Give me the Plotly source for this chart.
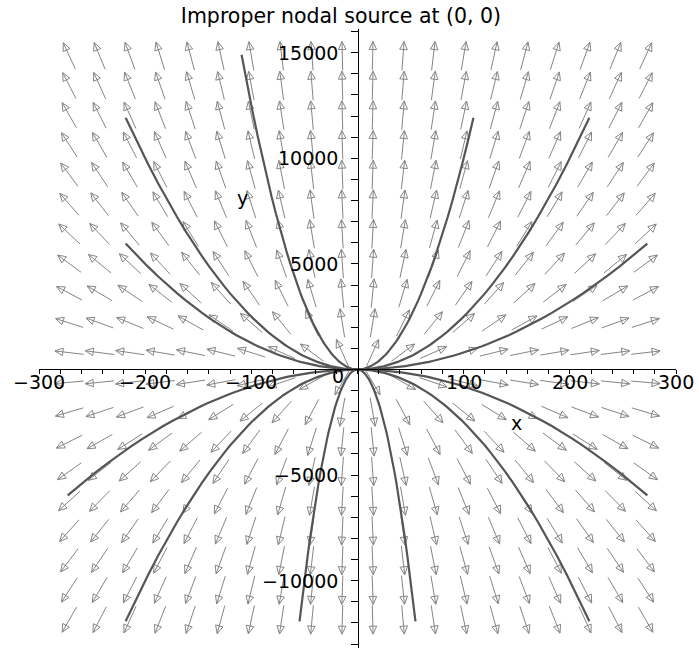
import numpy as np
import plotly.graph_objects as go

# Linear system  x' = rate_x * x,  y' = rate_y * y  (eigenvalues 1 and 2 -> improper nodal source)
rate_x = 1.0
rate_y = 2.0

# Initial conditions (t = 0) of the drawn trajectories
x0_values = [-4, -4, -2, 2, 4, 5, -5, -4, -1, 1, 4, 5]
y0_values = [4, 2, 5, 4, 4, 2, -2, -4, -4, -4, -4, -2]
t_start = -6.0
t_end = 4.0

# Viewing window and direction-field grid
x_range = [-300, 300]
y_range = [-13187, 16122]
field_x_window = [-300, 300]
field_y_window = [-13250, 16250]
grid_n = 20

# Axis ticks and labels
x_ticks = [-300, -200, -100, 100, 200, 300]
x_tick_labels = ["\u2212300", "\u2212200", "\u2212100", "100", "200", "300"]
y_ticks = [-10000, -5000, 5000, 10000, 15000]
y_tick_labels = ["\u221210000", "\u22125000", "5000", "10000", "15000"]

title_text = "Improper nodal source at (0, 0)"

W, H = 699, 648
margin = dict(l=39, r=23, t=29, b=0)
plot_w = W - margin["l"] - margin["r"]
plot_h = H - margin["t"] - margin["b"]
sx = plot_w / (x_range[1] - x_range[0])   # px per x unit
sy = plot_h / (y_range[1] - y_range[0])   # px per y unit

FONT = "DejaVu Sans, Liberation Sans, Arial, sans-serif"
ARROW_COLOR = "#858585"
CURVE_COLOR = "#555555"

fig = go.Figure()

# ---- direction field: fixed-length arrows with open triangular heads ----
gx = [field_x_window[0] + k * (field_x_window[1] - field_x_window[0]) / (grid_n + 1) for k in range(1, grid_n + 1)]
gy = [field_y_window[0] + k * (field_y_window[1] - field_y_window[0]) / (grid_n + 1) for k in range(1, grid_n + 1)]

arrow_len = 29.0   # px
head_len = 8.0     # px
head_half = 3.8    # px

ax_x, ax_y = [], []
for xc in gx:
    for yc in gy:
        vx = rate_x * xc * sx
        vy = rate_y * yc * sy
        n = np.hypot(vx, vy)
        ux, uy = vx / n, vy / n
        px, py = -uy, ux
        tail = (xc - 0.5 * arrow_len * ux / sx, yc - 0.5 * arrow_len * uy / sy)
        tip = (xc + 0.5 * arrow_len * ux / sx, yc + 0.5 * arrow_len * uy / sy)
        bx = tip[0] - head_len * ux / sx
        by = tip[1] - head_len * uy / sy
        c1 = (bx + head_half * px / sx, by + head_half * py / sy)
        c2 = (bx - head_half * px / sx, by - head_half * py / sy)
        ax_x += [tail[0], tip[0], None, tip[0], c1[0], c2[0], tip[0], None]
        ax_y += [tail[1], tip[1], None, tip[1], c1[1], c2[1], tip[1], None]

fig.add_trace(go.Scatter(x=ax_x, y=ax_y, mode="lines",
                         line=dict(color=ARROW_COLOR, width=1),
                         hoverinfo="skip", showlegend=False))

# ---- solution curves of the system through the initial points ----
t = np.arange(t_start, t_end + 1e-9, 0.05)
for x0, y0 in zip(x0_values, y0_values):
    xs = x0 * np.exp(rate_x * t)
    ys = y0 * np.exp(rate_y * t)
    fig.add_trace(go.Scatter(x=xs, y=ys, mode="lines",
                             line=dict(color=CURVE_COLOR, width=2.2),
                             hoverinfo="skip", showlegend=False))

# ---- tick labels and axis names ----
ann = []
for v, s in zip(x_ticks, x_tick_labels):
    ann.append(dict(x=v, y=0, text=s, showarrow=False, xanchor="center", yanchor="middle",
                    yshift=-13, font=dict(size=19, color="black", family=FONT)))
for v, s in zip(y_ticks, y_tick_labels):
    ann.append(dict(x=0, y=v, text=s, showarrow=False, xanchor="right", yanchor="middle",
                    xshift=-18, font=dict(size=19, color="black", family=FONT)))
ann.append(dict(x=0, y=0, text="0", showarrow=False, xanchor="right", yanchor="middle",
                xshift=-12, yshift=-7, font=dict(size=19, color="black", family=FONT)))
ann.append(dict(x=150, y=-2530, text="x", showarrow=False, xanchor="center", yanchor="middle",
                font=dict(size=19, color="black", family=FONT)))
ann.append(dict(x=-108, y=8120, text="y", showarrow=False, xanchor="center", yanchor="middle",
                font=dict(size=19, color="black", family=FONT)))

x_pos = (0 - y_range[0]) / (y_range[1] - y_range[0])

fig.update_layout(
    width=W, height=H, margin=margin,
    paper_bgcolor="white", plot_bgcolor="white",
    title=dict(text=title_text, x=341 / W, xanchor="center", xref="container",
               y=1 - 16 / H, yanchor="middle", yref="container",
               font=dict(size=20.5, color="black", family=FONT)),
    xaxis=dict(range=x_range, anchor="free", position=x_pos, showgrid=False, zeroline=False,
               showline=True, linecolor="black", linewidth=1,
               ticks="outside", ticklen=4, tickcolor="black", tick0=0, dtick=100,
               minor=dict(ticks="outside", ticklen=4, tickcolor="black", dtick=20),
               showticklabels=False),
    yaxis=dict(range=y_range, anchor="free", position=0.5, showgrid=False, zeroline=False,
               showline=True, linecolor="black", linewidth=1,
               ticks="outside", ticklen=7, tickcolor="black", tick0=0, dtick=5000,
               minor=dict(ticks="outside", ticklen=7, tickcolor="black", dtick=1000),
               showticklabels=False),
    annotations=ann,
)

fig.write_html("out.html")
